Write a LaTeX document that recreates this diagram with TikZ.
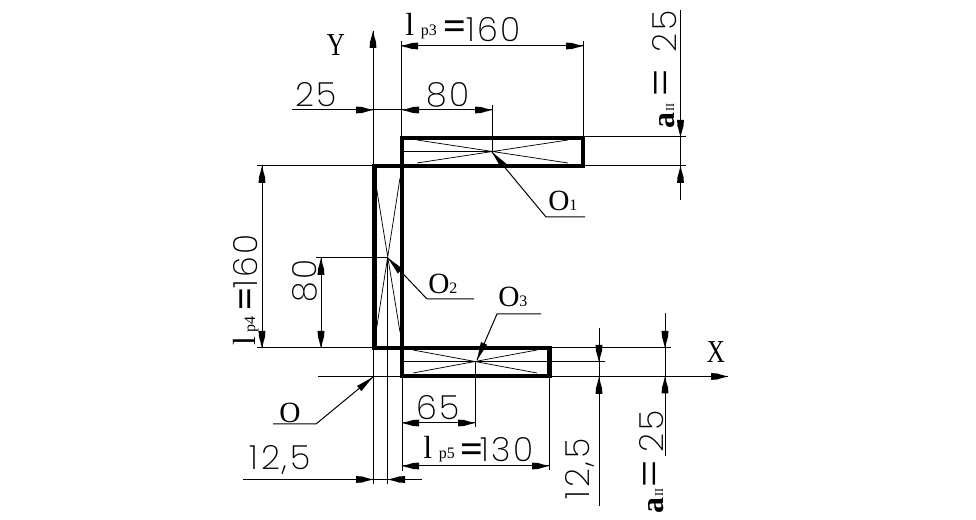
\documentclass[tikz,border=0pt]{standalone}
\usepackage{fontspec}
\setmainfont{Liberation Serif}
\newfontfamily\dimf[LetterSpace=8]{Poppins ExtraLight}
\newcommand{\dimtip}[3]{\fill[shift={(#1,#2)},rotate=#3] (0,0)--(-7,1.8)--(-11,3)--(-17,3.4)--(-17,-3.4)--(-11,-3)--(-7,-1.8)--cycle;}
\newcommand{\wedgetip}[3]{\fill[shift={(#1,#2)},rotate=#3] (0,0)--(-18,3.4)--(-18,-3.4)--cycle;}
\tikzset{
  thin line/.style={line width=0.75pt},
  prof/.style={line width=3.2pt,line join=miter},
  dimtxt/.style={inner sep=0pt,font=\dimf\fontsize{25}{25}\selectfont},
  sertxt/.style={inner sep=0pt,font=\fontsize{22}{22}\selectfont},
  axtxt/.style={inner sep=0pt,xscale=.78,font=\fontsize{24}{24}\selectfont},
  comptxt/.style={anchor=base west,inner sep=0pt},
}
\newcommand{\subt}[1]{{\fontsize{12}{12}\selectfont #1}}
\newcommand{\subb}[1]{{\fontsize{9}{9}\selectfont #1}}
\newcommand{\ltr}{{\fontsize{24}{24}\selectfont l}}
\newcommand{\eqs}{\raisebox{-2.5pt}{\fontsize{30}{30}\selectfont\textbf{=}}}
\newcommand{\eqa}{\raisebox{-2pt}{\fontsize{36}{36}\selectfont =}}
\newcommand{\dg}[2]{\raisebox{#1}{\dimf\fontsize{25}{25}\selectfont #2}}
\newcommand{\bolda}{\textbf{\fontsize{24}{24}\selectfont a}}
\begin{document}
\begin{tikzpicture}[x=0.75pt,y=-0.75pt]
\useasboundingbox (0,0) rectangle (976,520);
% X-shaped diagonals
\begin{scope}[line width=0.55pt]
\draw (417,140)--(568,163) (417,163)--(568,140);
\draw (376,185)--(400,332) (400,178)--(376,332);
\draw (413,350)--(537,373) (413,373)--(537,350);
\end{scope}
% profile
\draw[prof] (374.5,348)--(374.5,166)--(402,166)--(402,348)--cycle;
\draw[prof] (402,138)--(583,138)--(583,166)--(402,166)--cycle;
\draw[prof] (402,348)--(549.5,348)--(549.5,376)--(402,376)--cycle;
% axes and extension lines
\begin{scope}[thin line]
\coordinate (ytop) at (373,31);
\coordinate (ybot) at (373,484);
\coordinate (xl) at (318,376.5);
\coordinate (xr) at (728,376.5);
\draw (ytop)--(ybot);
\draw (xl)--(xr);
\draw (387.5,258)--(387.5,484);
\draw (257,166)--(686,166);
\draw (584,137)--(686,137);
\draw (257,348)--(671,348);
\draw (402,362)--(605,362);
\draw (402,152)--(492,152);
\draw (401,41)--(401,138);
\draw (583.5,41)--(583.5,138);
\draw (292,110)--(492,110);
\draw (492,105)--(492,152);
\draw (401,46)--(583,46);
\draw (680.5,10)--(680.5,200);
\draw (262,166)--(262,348);
\draw (321,258)--(321,348);
\draw (316,258)--(388,258);
\draw (475.5,362)--(475.5,427);
\draw (402,423)--(475,423);
\draw (402,376)--(402,471);
\draw (549.5,376)--(549.5,470);
\draw (402,466)--(549,466);
\draw (243,479.5)--(422,479.5);
\draw (599,328)--(599,506);
\draw (665,313)--(665,456);
% leaders
\draw (492,152)--(546,217)--(585,217);
\draw (388,258)--(427,299)--(474,299);
\draw (477,360)--(497,314)--(541,314);
\draw (373,377)--(316,424)--(273,424);
\end{scope}
% dimension arrows
\dimtip{373}{31}{90}
\dimtip{728}{376.5}{0}
\dimtip{373}{110}{0}
\dimtip{402}{110}{180}
\dimtip{492}{110}{0}
\dimtip{401}{46}{180}
\dimtip{583}{46}{0}
\dimtip{680.5}{137}{-90}
\dimtip{680.5}{166}{90}
\dimtip{262}{166}{90}
\dimtip{262}{348}{-90}
\dimtip{321}{258}{90}
\dimtip{321}{348}{-90}
\dimtip{402}{423}{180}
\dimtip{475}{423}{0}
\dimtip{402}{466}{180}
\dimtip{549}{466}{0}
\dimtip{373}{479.5}{0}
\dimtip{388}{479.5}{180}
\dimtip{599}{362}{-90}
\dimtip{599}{377}{90}
\dimtip{665}{348}{-90}
\dimtip{665}{376.5}{90}
% leader wedges
\wedgetip{492}{152}{130}
\wedgetip{388}{258}{133}
\wedgetip{477}{360}{-113}
\wedgetip{373}{377}{40}
% labels
\node[axtxt] (ly) at (336,45) {Y};
\node[axtxt] (lx) at (716,352) {X};
\node[sertxt] (lo) at (290,412.5) {O};
\node[sertxt,comptxt] (lo1) at (548,211) {O\subt{1}};
\node[sertxt,comptxt] (lo2) at (428,294) {O\subt{2}};
\node[sertxt,comptxt] (lo3) at (498,307) {O\subt{3}};
\node[dimtxt] (d25) at (316,95) {25};
\node[dimtxt] (d80) at (448,95) {80};
\node[dimtxt] (d65) at (438,408) {65};
\node[dimtxt] (d125) at (280,460) {12,5};
\node[dimtxt,rotate=90] (d80v) at (305,281) {80};
\node[dimtxt,rotate=90] (d125v) at (580,469) {12,5};
\node[comptxt] (lp3) at (405,36) {\ltr\hspace{5pt}\subt{p3}\hspace{5pt}\eqs\hspace{0pt}\dg{-4pt}{160}};
\node[comptxt] (lp5) at (423,459) {\ltr\hspace{5pt}\subt{p5}\hspace{4pt}\eqs\hspace{-2pt}\dg{-2pt}{130}};
\node[comptxt,rotate=90] (lp4) at (255,346) {\ltr\hspace{3pt}\subt{p4}\hspace{5pt}\eqs\hspace{-1pt}\dg{-2pt}{160}};
\node[comptxt,rotate=90] (la1) at (674,129) {\bolda\hspace{1pt}\subb{II}\hspace{5pt}\eqa\hspace{13pt}\dg{-2pt}{25}};
\node[comptxt,rotate=90] (la2) at (663,514) {\bolda\hspace{1pt}\subb{II}\hspace{1pt}\eqa\hspace{6pt}\dg{0pt}{25}};
\end{tikzpicture}
\end{document}
